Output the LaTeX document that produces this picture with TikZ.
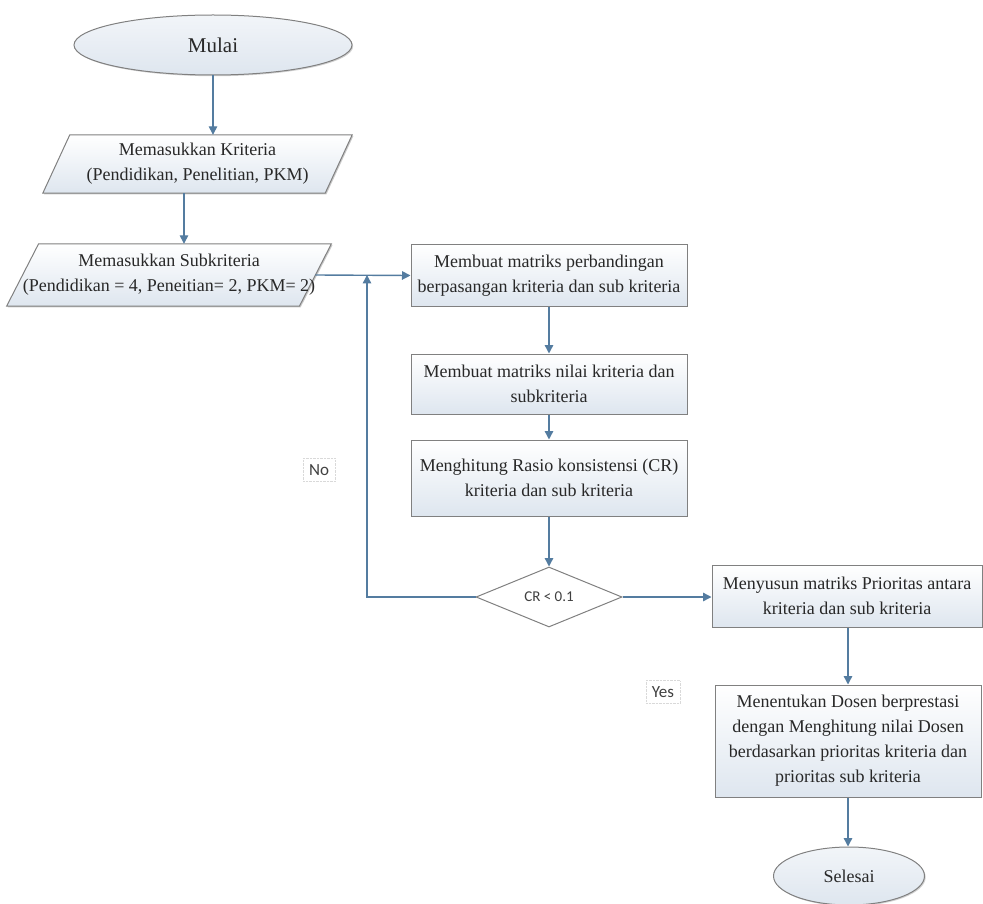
\documentclass[tikz,border=0pt]{standalone}
\usepackage{fontspec}
\setmainfont{Liberation Serif}
\newfontfamily\labelfont{Carlito}
\usetikzlibrary{shapes.geometric,arrows.meta,shadows,backgrounds}
\definecolor{arrowblue}{RGB}{84,124,160}
\definecolor{edgegray}{RGB}{128,128,128}
\definecolor{fillblue}{RGB}{222,230,239}
\definecolor{txt}{RGB}{40,40,40}
\tikzset{
  every node/.style={text=txt},
  bigtext/.style={font=\fontsize{18}{25}\selectfont, align=center},
  boxnode/.style={bigtext, draw=edgegray, line width=1pt, top color=white, bottom color=fillblue,
    inner sep=0pt, drop shadow={shadow xshift=1.2pt, shadow yshift=-1.2pt, opacity=0.35, fill=black!60}},
  ovalnode/.style={bigtext, ellipse, draw=edgegray, line width=1pt, top color=white!60!fillblue, bottom color=fillblue,
    inner sep=0pt, drop shadow={shadow xshift=1.2pt, shadow yshift=-1.2pt, opacity=0.3, fill=black!60}},
  ptext/.style={bigtext, inner sep=0pt},
  pshape/.style={draw=edgegray, line width=1pt, top color=white, bottom color=fillblue,
    drop shadow={shadow xshift=1.2pt, shadow yshift=-1.2pt, opacity=0.35, fill=black!60}},
  decision/.style={diamond, draw=edgegray, line width=1pt, fill=white, inner sep=0pt,
    font=\labelfont\fontsize{15}{18}\selectfont, text=black!75},
  flowarrow/.style={draw=arrowblue, line width=1.4pt, -{Triangle[length=8.5pt,width=8.5pt]}},
  lbl/.style={font=\labelfont\fontsize{17}{20}\selectfont, text=black!75, draw=black!15, densely dotted,
    inner sep=6pt}
}
\begin{document}
\begin{tikzpicture}[x=1pt,y=-1pt]
\useasboundingbox (0,0) rectangle (983,904);

% start
\node[ovalnode, minimum width=278pt, minimum height=60pt, font=\fontsize{21}{25}\selectfont] (mulai) at (213,45) {Mulai};

% input 1
\node[ptext, minimum width=282pt, minimum height=58pt] (p1) at (197.5,164)
  {Memasukkan Kriteria\\(Pendidikan, Penelitian, PKM)};
% input 2
\node[ptext, minimum width=280pt, minimum height=62pt] (p2) at (169,275)
  {Memasukkan Subkriteria\\(Pendidikan = 4, Peneitian= 2, PKM= 2)};

\begin{scope}[on background layer]
  \draw[pshape] ([xshift=13.5pt]p1.north west) -- ([xshift=13.5pt]p1.north east)
    -- ([xshift=-13.5pt]p1.south east) -- ([xshift=-13.5pt]p1.south west) -- cycle;
  \draw[pshape] ([xshift=16pt]p2.north west) -- ([xshift=16pt]p2.north east)
    -- ([xshift=-16pt]p2.south east) -- ([xshift=-16pt]p2.south west) -- cycle;
\end{scope}

% process boxes
\node[boxnode, minimum width=276pt, minimum height=61pt] (b1) at (549,275.5)
  {Membuat matriks perbandingan\\berpasangan kriteria dan sub kriteria};
\node[boxnode, minimum width=276pt, minimum height=60pt] (b2) at (549,384)
  {Membuat matriks nilai kriteria dan\\subkriteria};
\node[boxnode, minimum width=276pt, minimum height=76pt] (b3) at (549,478)
  {Menghitung Rasio konsistensi (CR)\\kriteria dan sub kriteria};

\node[decision, minimum width=146pt, minimum height=60pt] (dia) at (549,597) {CR < 0.1};

\node[boxnode, minimum width=270pt, minimum height=62pt] (b4) at (847,596)
  {Menyusun matriks Prioritas antara\\kriteria dan sub kriteria};
\node[boxnode, minimum width=266pt, minimum height=112pt] (b5) at (848,741)
  {Menentukan Dosen berprestasi\\dengan Menghitung nilai Dosen\\berdasarkan prioritas kriteria dan\\prioritas sub kriteria};

\node[ovalnode, minimum width=151pt, minimum height=58pt] (selesai) at (849,876) {Selesai};

% labels
\node[lbl] (no) at (319,470) {No};
\node[lbl] (yes) at (663,692) {Yes};

% connectors
\coordinate (p1b) at ([xshift=-13.5pt]p1.south);
\coordinate (j) at (367,275);
\draw[flowarrow] (mulai.south) -- (mulai.south |- p1.north);
\draw[flowarrow] (p1b) -- (p1b |- p2.north);
\draw[flowarrow] (p2.east) -- (b1.west);
\draw[flowarrow] (b1.south) -- (b2.north);
\draw[flowarrow] (b2.south) -- (b3.north);
\draw[flowarrow] (b3.south) -- (dia.north);
\draw[flowarrow] (dia.west) -| (j);
\draw[flowarrow] (dia.east) -- (dia.east -| b4.west);
\draw[flowarrow] (b4.south -| b5.north) -- (b5.north);
\draw[flowarrow] (b5.south) -- (b5.south |- selesai.north);
\end{tikzpicture}
\end{document}
